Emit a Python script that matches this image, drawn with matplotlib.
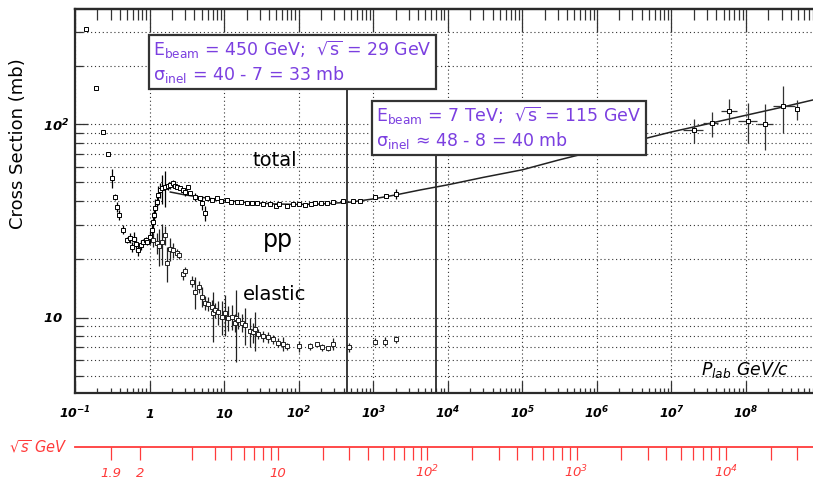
import numpy as np
import matplotlib.pyplot as plt
from matplotlib.ticker import LogLocator, NullFormatter

M_P = 0.938  # proton mass, GeV

# total pp cross section: p_lab (GeV/c), sigma (mb), error (mb)
tot_p = [0.140, 0.191, 0.237, 0.277, 0.313, 0.344, 0.365, 0.39, 0.44, 0.50,
         0.55, 0.58, 0.62, 0.66, 0.70, 0.77, 0.82, 0.90, 0.92, 1.01,
         1.09, 1.11, 1.15, 1.18, 1.25, 1.30, 1.39, 1.47, 1.61, 1.75,
         1.88, 2.06, 2.2, 2.33, 2.55, 2.8, 3.0, 3.3, 3.5, 4.07,
         4.7, 5.0, 5.5, 5.9, 6.9, 8.0, 9.0, 10.9, 12.5, 14.9,
         17.0, 20.3, 24, 27.6, 33, 41, 49.7, 55, 69.6, 85,
         101, 122, 146, 165, 198, 240, 287, 393, 535, 662,
         1050, 1470, 2040]
tot_sig = [310, 153, 91, 70, 52.6, 42, 37.3, 33.9, 28.4, 25.2,
           25.8, 23.2, 25.5, 24.0, 22.4, 23.7, 24.6, 25.2, 24.6, 26.0,
           28.4, 31.2, 33.9, 36.8, 39.5, 43.0, 45.6, 46.7, 47.3, 47.8,
           48.4, 49.6, 48.0, 47.3, 46.7, 45.6, 44.5, 47.3, 44.0, 42.0,
           41.5, 39.1, 34.6, 41.5, 40.5, 41.5, 40.0, 40.5, 39.6, 39.5,
           39.3, 39.1, 38.9, 39.1, 38.8, 38.6, 37.7, 38.5, 37.7, 38.4,
           38.6, 38.2, 38.6, 39.1, 39.1, 39.0, 39.5, 40.0, 40.0, 40.0,
           42.0, 42.5, 43.5]
tot_err = [8, 3, 2, 1.5, 6, 1.5, 2, 2, 1.5, 1,
           1.5, 1.5, 2, 2, 1.5, 1.5, 1, 1, 1, 2,
           3, 4, 3, 4, 3, 5, 4, 8, 10, 2,
           2, 1.5, 1.5, 1, 1, 1, 2, 1, 1, 2,
           1, 3, 3, 1, 1, 1, 1, 0.8, 0.8, 0.8,
           0.8, 0.8, 0.8, 0.8, 0.8, 0.8, 0.8, 0.6, 0.8, 0.5,
           1, 0.8, 1, 0.8, 0.8, 0.5, 0.5, 0.5, 0.5, 0.5,
           0.8, 0.8, 2.5]

# elastic pp cross section
el_p = [1.11, 1.25, 1.35, 1.46, 1.61, 1.71, 1.87, 2.05, 2.3, 2.5,
        2.8, 3.0, 3.7, 4.05, 4.6, 5.0, 5.5, 6.1, 6.9, 7.1,
        7.5, 8.2, 9.3, 10.2, 11.2, 12.6, 13.9, 14.5, 15.3, 17.2,
        19.0, 22.2, 24.3, 26, 28.3, 33.0, 38.5, 44.8, 52.5, 61.3,
        69.4, 100, 142, 178, 205, 247, 287, 480, 1070, 1460, 2040]
el_sig = [25.2, 24.3, 23.5, 24.6, 26.8, 19.2, 22.7, 22.4, 21.5, 21.0,
          16.7, 17.3, 15.3, 13.6, 14.4, 12.8, 11.9, 11.8, 11.3, 10.5,
          10.9, 10.7, 10.1, 10.5, 10.0, 10.1, 9.4, 9.9, 9.7, 9.4,
          9.2, 8.5, 8.4, 8.7, 8.2, 8.0, 7.9, 7.7, 7.4, 7.3,
          7.1, 7.1, 7.1, 7.3, 7.0, 6.95, 7.3, 7.0, 7.5, 7.5, 7.7]
el_err = [2, 3, 5, 6, 3, 4, 3, 2, 1, 1,
          1, 1, 1, 2.5, 1, 1.5, 1, 1, 1, 3,
          1, 1.5, 2, 2.5, 1.5, 1.5, 1, 4, 1, 1,
          2, 1.5, 1, 2, 0.5, 0.5, 0.5, 0.4, 0.4, 0.6,
          0.3, 0.5, 0.3, 0.2, 0.3, 0.2, 0.5, 0.4, 0.3, 0.4, 0.3]

# cosmic ray points
cr_p = [2e7, 3.5e7, 6e7, 1.05e8, 1.8e8, 3.1e8, 4.8e8]
cr_sig = [93, 101, 117, 103.6, 100, 124, 119.5]
cr_plo = [1.43e7, 2.65e7, 4.6e7, 7.8e7, 1.4e8, 2.3e8, 4.8e8]
cr_phi = [2.65e7, 4.2e7, 7.6e7, 1.4e8, 2.3e8, 4.5e8, 4.8e8]
cr_slo = [79.8, 85.7, 100, 79.8, 73.4, 89.8, 104.9]
cr_shi = [106, 115.3, 134.6, 128.3, 126.9, 157, 133]

# fit to total cross section
fit_p = [1.9, 3, 5, 10, 20, 50, 100, 200, 500, 1000, 2000, 4240,
         1e4, 3e4, 1e5, 3e5, 1e6, 3e6, 1e7, 3e7, 1e8, 3e8, 1e9]
fit_sig = [44.5, 43, 41.8, 40.3, 39.3, 38.6, 38.4, 38.6, 39.5, 41, 43, 45.6,
           48.5, 53, 58, 65, 73, 81, 91, 100, 111, 122, 136]

beam_p = [450, 7000]
beam_text = [r'E$_{\mathregular{beam}}$ = 450 GeV;  $\sqrt{\mathregular{s}}$ = 29 GeV' '\n'
             r'$\mathregular{\sigma_{inel}}$ = 40 - 7 = 33 mb',
             r'E$_{\mathregular{beam}}$ = 7 TeV;  $\sqrt{\mathregular{s}}$ = 115 GeV' '\n'
             r'$\mathregular{\sigma_{inel}}$ ≈ 48 - 8 = 40 mb']

xtick_vals = 10.0 ** np.arange(-1, 9)
xtick_labels = [r'$\mathbfit{10^{-1}}$', r'$\mathbfit{1}$', r'$\mathbfit{10}$'] + \
               [r'$\mathbfit{10^{%d}}$' % k for k in range(2, 9)]
ytick_vals = [10, 100]
ytick_labels = [r'$\mathbfit{10}$', r'$\mathbfit{10^{2}}$']

rs_major = [1.9, 2, 10, 100, 1000, 10000]
rs_labels = ['1.9', '2', '10', r'$\mathregular{10^{2}}$', r'$\mathregular{10^{3}}$',
             r'$\mathregular{10^{4}}$']
rs_minor = [3, 4, 5, 6, 7, 8, 9, 20, 30, 40, 50, 60, 70, 80, 90,
            200, 300, 400, 500, 600, 700, 800, 900,
            2000, 3000, 4000, 5000, 6000, 7000, 8000, 9000, 20000, 30000]


def p_to_rs(p):
    p = np.abs(np.asarray(p, dtype=float))
    e = np.sqrt(p ** 2 + M_P ** 2)
    return np.sqrt(2 * M_P ** 2 + 2 * M_P * e)


def rs_to_p(rs):
    s = np.asarray(rs, dtype=float) ** 2
    e = (s - 2 * M_P ** 2) / (2 * M_P)
    return np.sqrt(np.clip(e ** 2 - M_P ** 2, 1e-12, None))


RED = '#ff3b3b'
PURPLE = '#7b3fe0'
FRAME = '#2a2a2a'

fig = plt.figure(figsize=(8.13, 4.79), dpi=100)
ax = fig.add_axes([75 / 813, 86 / 479, 755 / 813, 383.7 / 479])
ax.set_xscale('log')
ax.set_yscale('log')
ax.set_xlim(0.1, 10 ** (-1 + 755 / 74.56))
ax.set_ylim(10 ** (1 - 75.5 / 193.5), 10 ** (2 + 114.7 / 193.5))

ax.plot(fit_p, fit_sig, color='#222222', lw=1.1, zorder=3)
ax.errorbar(tot_p, tot_sig, yerr=tot_err, fmt='s', ms=2.3, mfc='white', mec='k',
            mew=0.7, ecolor='k', elinewidth=0.9, capsize=0, zorder=4)
ax.errorbar(el_p, el_sig, yerr=el_err, fmt='s', ms=2.2, mfc='white', mec='#222',
            mew=0.7, ecolor='#222', elinewidth=0.9, capsize=0, zorder=4)
cr_xerr = [np.subtract(cr_p, cr_plo), np.subtract(cr_phi, cr_p)]
cr_yerr = [np.subtract(cr_sig, cr_slo), np.subtract(cr_shi, cr_sig)]
ax.errorbar(cr_p, cr_sig, xerr=cr_xerr, yerr=cr_yerr, fmt='s', ms=2.4, mfc='white',
            mec='k', mew=0.7, ecolor='#333', elinewidth=0.9, capsize=0, zorder=4)

# beam energy markers with their boxes
box_pos = [(0.1037, 0.9218), (0.399, 0.7498)]
line_top = [0.86, 0.69]
for p, txt, (bx, by), top in zip(beam_p, beam_text, box_pos, line_top):
    ax.axvline(p, ymin=0, ymax=top, color=FRAME, lw=1.3, zorder=5)
    ax.text(bx, by, txt, transform=ax.transAxes, ha='left', va='top',
            fontsize=12.5, color=PURPLE, linespacing=1.15, zorder=6,
            bbox=dict(boxstyle='square,pad=0.25', fc='white', ec='#333', lw=1.6))

ax.text(23.7, 60.6, 'total', fontsize=14, va='baseline', zorder=6)
ax.text(33.2, 23.1, 'pp', fontsize=17, va='baseline', zorder=6)
ax.text(17.9, 12.3, 'elastic', fontsize=14, va='baseline', zorder=6)
ax.text(2.49e7, 5.05, r'$P_{lab}$ GeV/c', fontsize=12.5, style='italic',
        va='baseline', zorder=6)

# grid
ax.set_axisbelow(True)
ax.grid(axis='y', which='both', ls=(0, (1, 2.5)), color='#333', lw=0.8)
ax.grid(axis='x', which='major', ls=(0, (1, 2.5)), color='#333', lw=0.8)

# ticks
ax.set_xticks(xtick_vals, xtick_labels)
ax.xaxis.set_minor_locator(LogLocator(base=10, subs=np.arange(2, 10), numticks=100))
ax.xaxis.set_minor_formatter(NullFormatter())
ax.set_yticks(ytick_vals, ytick_labels)
ax.yaxis.set_minor_locator(LogLocator(base=10, subs=np.arange(2, 10), numticks=100))
ax.yaxis.set_minor_formatter(NullFormatter())
ax.tick_params(axis='both', which='both', direction='in', color='#333', width=0.9,
               top=False, right=False)
ax.tick_params(axis='x', which='major', length=8.6, pad=18, labelsize=9)
ax.tick_params(axis='x', which='minor', length=3.6)
ax.tick_params(axis='y', which='major', length=9.4, pad=23, labelsize=9.5)
ax.tick_params(axis='y', which='minor', length=5.8)
for lab in ax.get_xticklabels():
    lab.set_va('baseline')
for lab in ax.get_yticklabels():
    lab.set_ha('left')

for side in ['top', 'bottom', 'left']:
    ax.spines[side].set_color(FRAME)
    ax.spines[side].set_linewidth(1.6)
ax.spines['right'].set_visible(False)

# longer ticks along the top edge
top = ax.secondary_xaxis('top')
top.set_xticks(xtick_vals)
top.xaxis.set_minor_locator(LogLocator(base=10, subs=np.arange(2, 10), numticks=100))
top.tick_params(which='both', direction='in', color='#333', width=0.9,
                labeltop=False, labelbottom=False)
top.tick_params(which='major', length=16.5)
top.tick_params(which='minor', length=8)
top.spines['top'].set_color(FRAME)
top.spines['top'].set_linewidth(1.6)
top.spines['bottom'].set_visible(False)

# sqrt(s) scale below
rs = ax.secondary_xaxis(-0.1407, functions=(p_to_rs, rs_to_p))
rs.xaxis.set_ticks_position('bottom')
rs.set_xticks(rs_major, rs_labels)
rs.set_xticks(rs_minor, minor=True)
rs.xaxis.set_minor_formatter(NullFormatter())
rs.tick_params(which='both', direction='out', length=9.4, width=0.9, color=RED,
               labelcolor=RED, labelsize=9.5, pad=12.2)
for lab in rs.get_xticklabels():
    lab.set_va('baseline')
    lab.set_fontstyle('italic')
rs.spines['bottom'].set_color(RED)
rs.spines['bottom'].set_linewidth(1.3)
rs.spines['top'].set_visible(False)
ax.text(-0.01, -0.1407, r'$\sqrt{s}$ GeV', transform=ax.transAxes, ha='right',
        va='center', color=RED, fontsize=10.5, style='italic')

fig.text(18 / 813, 1 - 144 / 479, 'Cross Section (mb)', rotation=90, ha='center',
         va='center', fontsize=13)

fig.savefig('out.png', dpi=100, facecolor='white')
